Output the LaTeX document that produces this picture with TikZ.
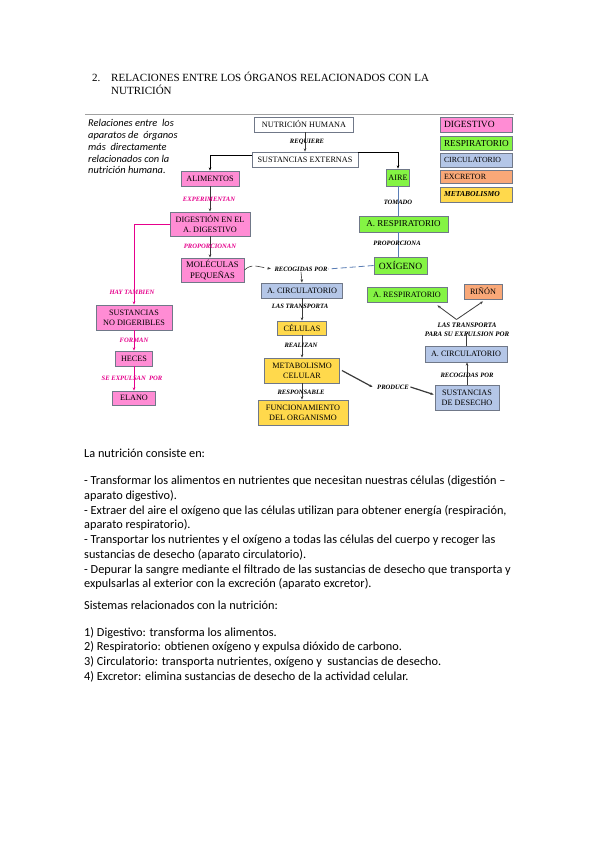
\documentclass[tikz,border=0pt]{standalone}
\usepackage{fontspec}
\setmainfont{Liberation Serif}
\newfontfamily\calib{Carlito}
\usetikzlibrary{arrows.meta,calc}
\definecolor{cpink}{HTML}{FF8CD4}
\definecolor{cgreen}{HTML}{84F444}
\definecolor{cblue}{HTML}{B4C6E7}
\definecolor{corange}{HTML}{F9A878}
\definecolor{cyellow}{HTML}{FFD94C}
\definecolor{cmag}{HTML}{E6008C}
\definecolor{bordc}{HTML}{707888}
\definecolor{lineg}{HTML}{3A3A3A}
\definecolor{bline}{HTML}{5A7DB5}
\definecolor{rulec}{HTML}{A0A0A0}
\begin{document}
\begin{tikzpicture}[x=1pt,y=-1pt,
  bx/.style={draw=bordc,line width=0.9pt,inner sep=0pt,align=center,font=\fontsize{8.2}{10}\selectfont},
  sz/.style 2 args={minimum width=#1pt,minimum height=#2pt},
  lg/.style={bx,text width=64pt,inner xsep=4pt,align=left},
  lbl/.style={font=\fontsize{6.6}{8}\selectfont\bfseries\itshape,inner sep=0.5pt,align=center},
  mlbl/.style={lbl,text=cmag},
  tip/.style={-{Stealth[length=3.2pt,width=2.6pt]}},
  arr/.style={draw=lineg,line width=0.6pt,tip},
  marr/.style={draw=cmag,line width=0.8pt,tip},
  blk/.style={draw=black,line width=1pt,tip},
  thk/.style={draw=lineg,line width=1.2pt,tip},
  bln/.style={draw=bline,line width=0.8pt},
  body/.style={anchor=base west,inner sep=0pt,font=\calib\fontsize{12.3}{14}\selectfont}]
\useasboundingbox[fill=white] (0,0) rectangle (599,848);

% title
\node[anchor=base west,inner sep=0pt,font=\fontsize{11}{13}\selectfont] (tnum) at (92,82) {2.};
\node[anchor=base west,inner sep=0pt,font=\fontsize{11}{13}\selectfont] (tt1) at (111,82) {RELACIONES ENTRE LOS ÓRGANOS RELACIONADOS CON LA};
\node[anchor=base west,inner sep=0pt,font=\fontsize{11}{13}\selectfont] (tt2) at (111,95) {NUTRICIÓN};

% rule
\coordinate (r1) at (85,114);
\coordinate (r2) at (514,114);
\draw[rulec,line width=0.8pt] (r1) -- (r2);

% intro italic text
\node[anchor=north west,inner sep=0pt,align=left,font=\calib\itshape\fontsize{10.4}{11.7}\selectfont] (intro) at (88,119.5)
  {Relaciones entre\ \ los\\aparatos de\ \ órganos\\más\ \ directamente\\relacionados con la\\nutrición humana.};

% legend
\node[lg,fill=cpink,minimum height=15pt,font=\fontsize{9.5}{11}\selectfont] (lg1) at (476,124.5) {DIGESTIVO};
\node[lg,fill=cgreen,minimum height=14pt,font=\fontsize{9.2}{11}\selectfont] (lg2) at (476,143) {RESPIRATORIO};
\node[lg,fill=cblue,minimum height=14pt,font=\fontsize{7.8}{9}\selectfont] (lg3) at (476,160) {CIRCULATORIO};
\node[lg,fill=corange,minimum height=13pt,font=\fontsize{8}{9}\selectfont] (lg4) at (476,176.5) {EXCRETOR};
\node[lg,fill=cyellow,minimum height=15pt,font=\fontsize{7.6}{9}\selectfont\bfseries\itshape] (lg5) at (476,194.5) {METABOLISMO};

% boxes
\node[bx,fill=white,sz={99}{15}] (nh) at (304,124.5) {NUTRICIÓN HUMANA};
\node[bx,fill=white,sz={106}{15}] (se) at (305,159.5) {SUSTANCIAS EXTERNAS};
\node[bx,fill=cpink,sz={58}{15}] (ali) at (210,178.5) {ALIMENTOS};
\node[bx,fill=cgreen,sz={23}{17}] (aire) at (398,177.5) {AIRE};
\node[bx,fill=cpink,sz={80}{24}] (dig) at (210,224) {DIGESTIÓN EN EL\\A. DIGESTIVO};
\node[bx,fill=cgreen,sz={89}{16},font=\fontsize{9}{10}\selectfont] (ar1) at (403.5,224) {A. RESPIRATORIO};
\node[bx,fill=cpink,sz={63}{24},font=\fontsize{8.6}{10.3}\selectfont] (mol) at (212.5,270) {MOLÉCULAS\\PEQUEÑAS};
\node[bx,fill=cgreen,sz={53}{17},font=\fontsize{9.5}{11}\selectfont] (oxi) at (400.5,265.5) {OXÍGENO};
\node[bx,fill=cblue,sz={81}{15}] (ac1) at (302,290.5) {A. CIRCULATORIO};
\node[bx,fill=cgreen,sz={80}{15}] (ar2) at (407,294.5) {A. RESPIRATORIO};
\node[bx,fill=corange,sz={38}{15}] (rin) at (483,291.5) {RIÑÓN};
\node[bx,fill=cpink,sz={76}{25}] (snd) at (134,317.5) {SUSTANCIAS\\NO DIGERIBLES};
\node[bx,fill=cyellow,sz={49}{14}] (cel) at (302,328) {CÉLULAS};
\node[bx,fill=cpink,sz={37}{15}] (hec) at (134,358.5) {HECES};
\node[bx,fill=cblue,sz={82}{16}] (ac2) at (466,354) {A. CIRCULATORIO};
\node[bx,fill=cyellow,sz={75}{25}] (met) at (302,370.5) {METABOLISMO\\CELULAR};
\node[bx,fill=cblue,sz={64}{25}] (sdd) at (467,397.5) {SUSTANCIAS\\DE DESECHO};
\node[bx,fill=cpink,sz={43}{14}] (ela) at (134,398) {ELANO};
\node[bx,fill=cyellow,sz={90}{25}] (fun) at (303,412.5) {FUNCIONAMIENTO\\DEL ORGANISMO};

% connectors
\draw[arr] (nh.south -| se.north) -- (se.north);
\node[lbl] (l1) at (307,142) {REQUIERE};
\draw[blk] ($(se.west)+(0,-4.5)$) -| (ali.north);
\draw[blk] ($(se.east)+(0,-7)$) -| (aire.north);
\draw[arr] (ali.south) -- (ali.south |- dig.north);
\node[mlbl] (l2) at (209,199) {EXPERIMENTAN};
\draw[bln] (aire.south) -- (aire.south |- ar1.north);
\node[lbl] (l3) at (398,202) {TOMADO};
\draw[arr] (dig.south) -- (dig.south |- mol.north);
\node[mlbl] (l4) at (210,246) {PROPORCIONAN};
\draw[bln] (ar1.south -| aire.south) -- (aire.south |- oxi.north);
\node[lbl] (l5) at (397,243) {PROPORCIONA};
\draw[marr] (dig.west) -| (snd.north);
\node[mlbl] (l6) at (132,292) {HAY TAMBIEN};
\node[lbl] (rp) at (301,269) {RECOGIDAS POR};
\draw[arr,dash pattern=on 9pt off 3pt,shorten >=3pt] (mol.east) .. controls (252,263) and (258,267) .. (rp.west);
\draw[bln,dash pattern=on 6pt off 3pt] (oxi.west) -- (rp.east);
\draw[arr] (rp.south) -- (ac1.north);
\draw[arr] (ac1.south) -- (ac1.south |- cel.north);
\node[lbl] (l7) at (300,306) {LAS TRANSPORTA};
\draw[arr] (cel.south) -- (cel.south |- met.north);
\node[lbl] (l8) at (301,345) {REALIZAN};
\draw[arr] (met.south) -- (met.south |- fun.north);
\node[lbl] (l9) at (301,392) {RESPONSABLE};
\draw[marr] (snd.south) -- (snd.south |- hec.north);
\node[mlbl] (l10) at (134,340) {FORMAN};
\draw[marr] (hec.south) -- (hec.south |- ela.north);
\node[mlbl] (l11) at (132,378) {SE EXPULSAN\ \ POR};
\node[lbl] (prod) at (393,387) {PRODUCE};
\draw[thk] ($(met.east)+(2,0)$) -- ($(prod.west)+(-4,0)$);
\draw[thk] ($(prod.east)+(1,0)$) -- ($(sdd.west)+(-1,-3)$);
\draw[arr] (sdd.north) -- (sdd.north |- ac2.south);
\node[lbl] (l12) at (467,375) {RECOGIDAS POR};
\node[lbl,font=\fontsize{6.9}{8.6}\selectfont\bfseries\itshape] (lt) at (467,329.5) {LAS TRANSPORTA\\PARA SU EXPULSION POR};
\draw[draw=lineg,line width=0.8pt] (ac2.north) -- ++(0,-13);
\coordinate (apex) at (456.5,319.5);
\draw[arr,line width=0.8pt] (apex) -- ($(ar2.south east)+(-10,3)$);
\draw[arr,line width=0.8pt] (apex) -- ($(rin.south)+(0,2)$);

% body text
\node[body] (t1) at (84,457) {La nutrición consiste en:};
\node[body] (t2) at (84,484.7) {- Transformar los alimentos en nutrientes que necesitan nuestras células (digestión –};
\node[body] (t3) at (84,499.4) {aparato digestivo).};
\node[body] (t4) at (84,514.2) {- Extraer del aire el oxígeno que las células utilizan para obtener energía (respiración,};
\node[body] (t5) at (84,528.9) {aparato respiratorio).};
\node[body] (t6) at (84,543.7) {- Transportar los nutrientes y el oxígeno a todas las células del cuerpo y\ recoger las};
\node[body] (t7) at (84,558.4) {sustancias de desecho (aparato circulatorio).};
\node[body] (t8) at (84,573.2) {- Depurar la sangre mediante el filtrado de las sustancias de desecho que transporta y};
\node[body] (t9) at (84,587.9) {expulsarlas al exterior con la excreción (aparato excretor).};
\node[body] (t10) at (84,609.7) {Sistemas relacionados con la nutrición:};
\node[body] (t11) at (84,636) {1) Digestivo: transforma los alimentos.};
\node[body] (t12) at (84,650.75) {2) Respiratorio: obtienen oxígeno y expulsa dióxido de carbono.};
\node[body] (t13) at (84,665.5) {3) Circulatorio: transporta nutrientes, oxígeno y\ \ sustancias de desecho.};
\node[body] (t14) at (84,680.25) {4) Excretor: elimina sustancias de desecho de la actividad celular.};
\end{tikzpicture}
\end{document}
